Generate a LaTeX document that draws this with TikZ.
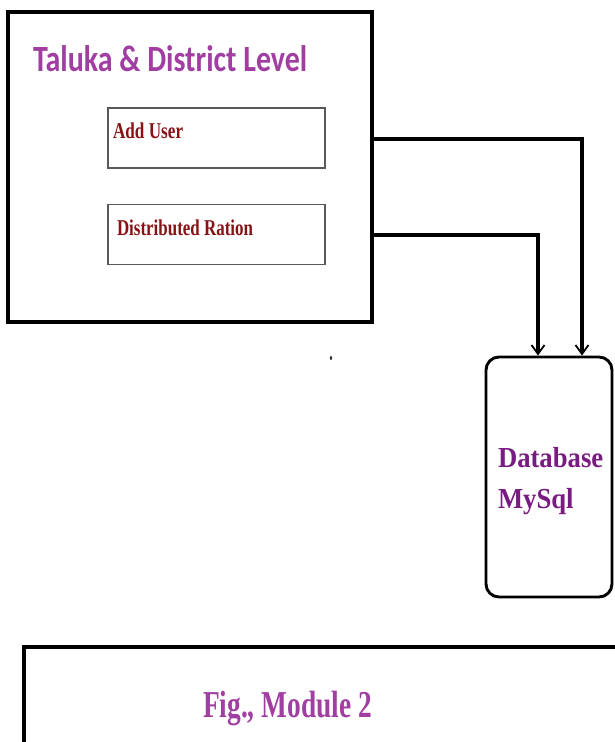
\documentclass[tikz,border=0pt]{standalone}
\usepackage{fontspec}
\setmainfont{Liberation Serif}
\newfontfamily\titlefont{Carlito}
\usetikzlibrary{arrows.meta,calc}
\definecolor{ttlpurple}{RGB}{160,62,162}
\definecolor{dbpurple}{RGB}{120,28,130}
\definecolor{boxred}{RGB}{135,18,22}
\tikzset{
  outerbox/.style={draw=black,line width=3.4pt,inner sep=0pt},
  subbox/.style={draw=black!65,line width=1.4pt,inner sep=0pt,minimum width=217pt,minimum height=60pt},
  dbbox/.style={draw=black,line width=2.9pt,rounded corners=13pt,inner sep=0pt,minimum width=126pt,minimum height=240pt},
  dblink/.style={line width=3.2pt,-{Straight Barb[length=9pt,width=13pt,line width=1.8pt]}},
  lbl/.style={anchor=base west,inner sep=0pt,outer sep=0pt},
}
\begin{document}
\begin{tikzpicture}[x=1pt,y=-1pt]
\useasboundingbox (0,0) rectangle (614,742);
% outer box
\node[outerbox,minimum width=364pt,minimum height=310pt] (outer) at (190,167) {};
\node[lbl,text=ttlpurple] (title) at (33,71) {\scalebox{0.81}[1]{\fontsize{37}{40}\selectfont\titlefont\bfseries Taluka \& District Level}};
% sub boxes
\node[subbox] (adduser) at (216.5,138) {};
\node[subbox] (ration) at (216.5,234.5) {};
\node[lbl,text=boxred] (addtxt) at (113,138) {\scalebox{0.76}[1]{\fontsize{22.6}{24}\selectfont\bfseries Add User}};
\node[lbl,text=boxred] (rattxt) at (117,235) {\scalebox{0.75}[1]{\fontsize{22.6}{24}\selectfont\bfseries Distributed Ration}};
% database
\node[dbbox] (db) at (549,477) {};
\node[lbl,text=dbpurple] (dbtxt1) at (498,467) {\scalebox{0.92}[1]{\fontsize{29}{32}\selectfont\bfseries Database}};
\node[lbl,text=dbpurple] (dbtxt2) at (498,508) {\scalebox{0.92}[1]{\fontsize{29}{32}\selectfont\bfseries MySql}};
% connectors
\coordinate (in1) at ([xshift=33pt]db.north);
\coordinate (in2) at ([xshift=-11pt]db.north);
\coordinate (out1) at (outer.east |- 0,139);
\coordinate (out2) at (outer.east |- 0,235);
\draw[dblink] (out1) -| (in1);
\draw[dblink] (out2) -| (in2);
% stray dot
\fill[black!80] (331,358) ellipse (1.2pt and 2pt);
% figure caption box
\node[draw=black,line width=4pt,inner sep=0pt,minimum width=620pt,minimum height=140pt,anchor=north west] (figbox) at (22,645) {};
\node[lbl,text=ttlpurple] (figtxt) at (203,717) {\scalebox{0.72}[1]{\fontsize{38}{40}\selectfont\bfseries Fig., Module 2}};
\end{tikzpicture}
\end{document}
